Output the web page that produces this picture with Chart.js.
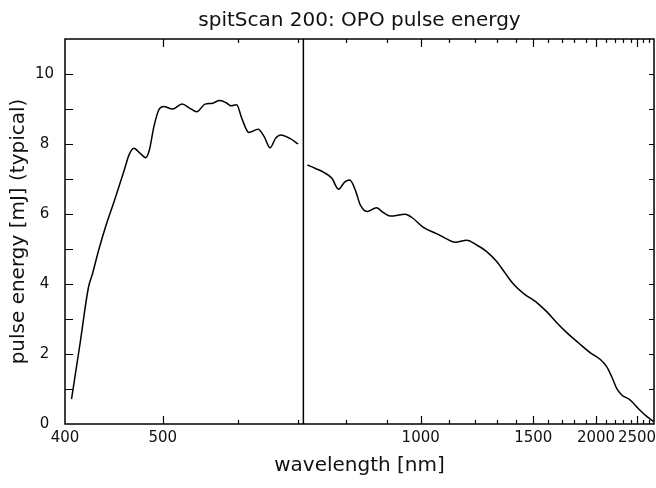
<!DOCTYPE html>
<html>
<head>
<meta charset="utf-8">
<script src="https://cdn.jsdelivr.net/npm/chart.js@4"></script>
<style>
  html, body { margin: 0; padding: 0; background: #ffffff; }
  #wrap { width: 656px; height: 488px; }
</style>
</head>
<body>
<div id="wrap"><canvas id="c" width="656" height="488"></canvas></div>
<script>
// ---------------- data ----------------
const signalWavelength = [406, 414, 422, 426, 432, 439, 448, 458, 463, 468, 475, 481, 485, 490, 495.5, 501, 512, 524, 534, 543, 554, 563, 574, 583, 590, 598, 606, 617, 632, 642, 652, 661, 670, 686, 701];
const signalEnergy     = [0.71, 2.3, 3.9, 4.3, 4.97, 5.65, 6.4, 7.26, 7.69, 7.88, 7.73, 7.61, 7.83, 8.49, 8.97, 9.07, 9.0, 9.14, 9.02, 8.92, 9.14, 9.16, 9.24, 9.18, 9.09, 9.12, 8.73, 8.33, 8.42, 8.21, 7.89, 8.16, 8.26, 8.16, 8.0];

const idlerWavelength = [719, 735, 752, 769, 783, 797, 808, 821, 833, 850, 873, 887, 909, 953, 973, 1009, 1056, 1090, 1122, 1167, 1208, 1254, 1300, 1343, 1386, 1442, 1500, 1523, 1591, 1662, 1738, 1835, 1942, 2040, 2107, 2161, 2217, 2280, 2390, 2495, 2628, 2770];
const idlerEnergy     = [7.4, 7.3, 7.19, 7.02, 6.71, 6.92, 6.97, 6.69, 6.26, 6.07, 6.18, 6.07, 5.94, 5.99, 5.9, 5.62, 5.43, 5.29, 5.19, 5.25, 5.11, 4.92, 4.64, 4.31, 4.0, 3.73, 3.54, 3.47, 3.21, 2.89, 2.61, 2.32, 2.04, 1.85, 1.64, 1.35, 1.02, 0.83, 0.69, 0.49, 0.26, 0.07];

const degeneracyWavelength = [711];

// tick labels
const xLabelWavelengths = [400, 500, 1000, 1500, 2000, 2500];
const xMinorWavelengths = [500, 600, 700, 800, 900, 1000, 1100, 1200, 1300, 1400, 1500, 1600, 1700, 1800, 1900, 2000, 2100, 2200, 2300, 2400, 2500, 2600, 2700];
const xMajorWavelengths = [500, 1000, 1500, 2000, 2500];
const yLabelValues = [0, 2, 4, 6, 8, 10];
const yMinorValues = [1, 2, 3, 4, 5, 6, 7, 8, 9, 10];

// ---------------- x-axis calibration (non-standard wavelength axis) ----------------
const calWavelength = [400, 500, 600, 700, 800, 900, 1000, 1100, 1200, 1300, 1400, 1500, 1600, 1700, 1800, 1900, 2000, 2100, 2200, 2300, 2400, 2500, 2600, 2700, 2780];
const calUnit       = [0, 97.7, 173, 232.7, 281.3, 322, 355.7, 384.3, 410, 431.7, 451, 468.3, 483, 497, 509.3, 520.7, 531, 541, 550.3, 558.3, 565.7, 572, 578.3, 584.3, 589];

function warp(w) {
  const n = calWavelength.length;
  let i = 0;
  if (w <= calWavelength[0]) i = 0;
  else if (w >= calWavelength[n - 1]) i = n - 2;
  else { while (i < n - 2 && w > calWavelength[i + 1]) i++; }
  const a = Math.log(calWavelength[i]), b = Math.log(calWavelength[i + 1]);
  const t = (Math.log(w) - a) / (b - a);
  return calUnit[i] + t * (calUnit[i + 1] - calUnit[i]);
}

const pts = (xs, ys) => xs.map((w, i) => ({ x: warp(w), y: ys[i] }));

const FONT = "'DejaVu Sans', Verdana, 'Noto Sans', sans-serif";
const INK = '#111111';

const frameTicks = {
  id: 'frameTicks',
  afterDatasetsDraw(chart) {
    const { ctx, chartArea: a, scales: { x, y } } = chart;
    ctx.save();
    ctx.strokeStyle = '#000000';
    ctx.lineWidth = 1.2;
    ctx.beginPath();
    for (const w of xMinorWavelengths) {
      const px = Math.round(x.getPixelForValue(warp(w))) + 0.5;
      const len = xMajorWavelengths.includes(w) ? 8 : 4;
      ctx.moveTo(px, a.bottom); ctx.lineTo(px, a.bottom - len);
      ctx.moveTo(px, a.top); ctx.lineTo(px, a.top + len);
    }
    for (const v of yMinorValues) {
      const py = Math.round(y.getPixelForValue(v)) + 0.5;
      ctx.moveTo(a.left, py); ctx.lineTo(a.left + 8, py);
      ctx.moveTo(a.right, py); ctx.lineTo(a.right - 5, py);
    }
    ctx.stroke();
    ctx.lineWidth = 1.5;
    ctx.strokeRect(a.left, a.top, a.right - a.left, a.bottom - a.top);
    ctx.restore();
  }
};

new Chart(document.getElementById('c'), {
  type: 'line',
  data: {
    datasets: [
      { label: 'signal', data: pts(signalWavelength, signalEnergy), borderColor: '#000', borderWidth: 1.5, pointRadius: 0, fill: false, cubicInterpolationMode: 'monotone' },
      { label: 'idler', data: pts(idlerWavelength, idlerEnergy), borderColor: '#000', borderWidth: 1.5, pointRadius: 0, fill: false, cubicInterpolationMode: 'monotone' },
      { label: 'degeneracy', data: [{ x: warp(degeneracyWavelength[0]), y: 0 }, { x: warp(degeneracyWavelength[0]), y: 11 }], borderColor: '#000', borderWidth: 1.5, pointRadius: 0, fill: false, tension: 0 }
    ]
  },
  options: {
    responsive: false,
    animation: false,
    devicePixelRatio: 1,
    layout: { padding: { left: 0, right: 2, top: 0, bottom: 0 } },
    plugins: {
      legend: { display: false },
      tooltip: { enabled: false },
      title: {
        display: true,
        fullSize: false,
        text: 'spitScan 200: OPO pulse energy',
        color: INK,
        font: { family: FONT, size: 20, weight: 'normal', lineHeight: 1.2 },
        padding: { top: 9, bottom: 6 }
      }
    },
    scales: {
      x: {
        type: 'linear',
        min: 0,
        max: warp(2780),
        grid: { display: false, drawTicks: false },
        border: { display: false },
        afterBuildTicks: (s) => { s.ticks = xLabelWavelengths.map(w => ({ value: warp(w) })); },
        afterFit: (s) => { s.height = 64; s.paddingRight = 0; s.paddingLeft = 0; },
        ticks: {
          autoSkip: false,
          maxRotation: 0,
          padding: 5,
          color: INK,
          font: { family: FONT, size: 15 },
          callback: (v, i) => String(xLabelWavelengths[i])
        },
        title: {
          display: true,
          text: 'wavelength [nm]',
          color: INK,
          font: { family: FONT, size: 20, lineHeight: 1.2 },
          padding: { top: 0, bottom: 10 }
        }
      },
      y: {
        type: 'linear',
        min: 0,
        max: 11,
        grid: { display: false, drawTicks: false },
        border: { display: false },
        afterBuildTicks: (s) => { s.ticks = yLabelValues.map(v => ({ value: v })); },
        afterFit: (s) => { s.width = 65; s.paddingTop = 0; s.paddingBottom = 0; },
        ticks: {
          padding: 11,
          crossAlign: 'center',
          color: INK,
          font: { family: FONT, size: 15 },
          callback: (v) => String(v)
        },
        title: {
          display: true,
          text: 'pulse energy [mJ] (typical)',
          color: INK,
          font: { family: FONT, size: 20, lineHeight: 1.2 },
          padding: { top: 7, bottom: 0 }
        }
      }
    }
  },
  plugins: [frameTicks]
});
</script>
</body>
</html>
